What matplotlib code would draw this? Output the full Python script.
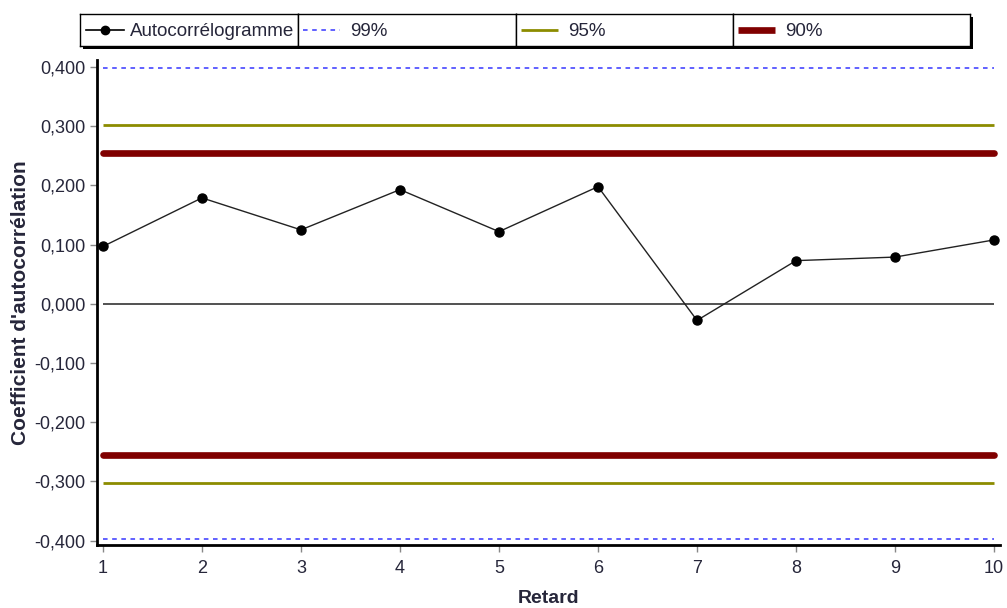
import numpy as np
import matplotlib
matplotlib.use("Agg")
from matplotlib import pyplot as plt
from matplotlib.patches import Rectangle

plt.rcParams['font.family'] = ['Liberation Sans', 'DejaVu Sans']

# autocorrelation by lag
lags = [1, 2, 3, 4, 5, 6, 7, 8, 9, 10]
acf = [0.097, 0.179, 0.125, 0.193, 0.122, 0.198, -0.028, 0.073, 0.079, 0.108]

# confidence bounds (+/-)
levels = ['99%', '95%', '90%']
bounds = [0.398, 0.303, 0.255]
yticks = [-0.4, -0.3, -0.2, -0.1, 0.0, 0.1, 0.2, 0.3, 0.4]

styles = {
    '99%': dict(color='#3535ff', lw=1.1, ls=(0, (3, 3))),
    '95%': dict(color='#8c8c00', lw=2.0, ls='-'),
    '90%': dict(color='#800000', lw=4.8, ls='-'),
}
txtcol = '#26263a'

W, H = 1007, 608
fig = plt.figure(figsize=(W / 100, H / 100), dpi=100)
ax = fig.add_axes([97 / W, 63 / H, 903 / W, 485 / H])

for lev, b in zip(levels, bounds):
    st = styles[lev]
    ax.hlines([b, -b], lags[0], lags[-1], colors=st['color'], linewidth=st['lw'],
              linestyles=[st['ls']], capstyle='round' if lev == '90%' else 'butt')
ax.hlines(0, lags[0], lags[-1], colors='#222222', linewidth=1.1)
ax.plot(lags, acf, color='#222222', lw=1.0, marker='o', ms=6.5,
        markerfacecolor='black', markeredgecolor='black', zorder=5)

ax.set_xlim(0.94, 10.06)
ax.set_ylim(-0.4075, 0.412)
ax.set_xticks(lags)
ax.set_yticks(yticks)
ax.set_yticklabels([f"{v:.3f}".replace('.', ',').replace('-0,000', '0,000') for v in yticks])
for side in ['top', 'right']:
    ax.spines[side].set_visible(False)
for side in ['left', 'bottom']:
    ax.spines[side].set_linewidth(2.0)
    ax.spines[side].set_color('black')
ax.tick_params(axis='both', direction='out', length=5, width=1, color='#888888',
               labelsize=13, labelcolor=txtcol)
ax.tick_params(axis='x', pad=6)
ax.set_xlabel('Retard', fontsize=14, fontweight='bold', color=txtcol, labelpad=9)
ax.set_ylabel("Coefficient d'autocorrélation", fontsize=15, fontweight='bold',
              color=txtcol, labelpad=3)

# legend drawn as a row of boxed cells with a drop shadow
top, bot = 14, 46
edges = [80, 298, 516, 733, 970]
fig.patches.append(Rectangle((edges[0] / W + 3 / W, 1 - bot / H - 3 / H),
                             (edges[-1] - edges[0]) / W, (bot - top) / H,
                             transform=fig.transFigure, facecolor='black',
                             edgecolor='none', zorder=-5))
names = ['Autocorrélogramme'] + levels
for i, name in enumerate(names):
    x0, x1 = edges[i], edges[i + 1]
    cax = fig.add_axes([x0 / W, 1 - bot / H, (x1 - x0) / W, (bot - top) / H])
    cax.set_xlim(x0, x1)
    cax.set_ylim(0, 1)
    cax.set_xticks([])
    cax.set_yticks([])
    for sp in cax.spines.values():
        sp.set_linewidth(1.0)
        sp.set_color('black')
    if i == 0:
        cax.plot([x0 + 6, x0 + 44], [0.5, 0.5], color='black', lw=1.2)
        cax.plot([x0 + 25], [0.5], marker='o', ms=6, color='black')
        tx = x0 + 50
    else:
        st = styles[name]
        cax.plot([x0 + 5, x0 + 42], [0.5, 0.5], color=st['color'], lw=st['lw'],
                 ls=st['ls'], solid_capstyle='butt')
        tx = x0 + 52
    cax.text(tx, 0.45, name, fontsize=13.5, va='center', ha='left', color=txtcol,
             clip_on=True)

fig.savefig('out.png', dpi=100)
